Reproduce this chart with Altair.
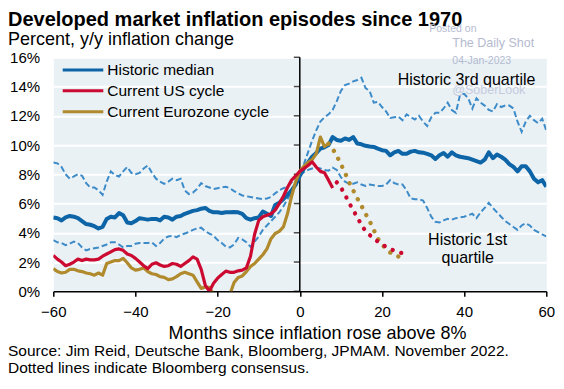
import altair as alt
import pandas as pd

# ---------------- data ----------------
hist_months = list(range(-60, 61))
hist_median = [
    5.05, 5.0, 4.85, 5.05, 5.15, 5.1, 5.0, 4.8, 4.6, 4.55,
    4.45, 4.3, 4.4, 4.95, 5.1, 5.05, 5.35, 5.2, 4.7, 4.65,
    4.8, 5.0, 4.95, 4.9, 4.95, 4.95, 4.85, 5.1, 5.05, 4.9,
    5.1, 5.15, 5.3, 5.4, 5.5, 5.55, 5.65, 5.7, 5.5, 5.4,
    5.4, 5.35, 5.4, 5.4, 5.42, 5.4, 5.3, 5.0, 4.9, 5.0,
    5.05, 5.45, 5.3, 5.15, 5.9, 6.05, 6.3, 6.6, 6.9, 7.3,
    7.9,
    8.4, 8.8, 9.2, 9.45, 9.75, 9.85, 10.0, 10.55, 10.35, 10.3,
    10.45, 10.35, 10.55, 10.1, 10.05, 9.95, 9.9, 9.87, 9.75, 9.65,
    9.6, 9.3, 9.5, 9.6, 9.4, 9.4, 9.55, 9.6, 9.5, 9.48,
    9.4, 9.3, 9.05, 9.3, 9.45, 9.2, 9.5, 9.3, 9.2, 9.15,
    9.1, 9.0, 8.9, 8.8, 9.0, 9.5, 9.1, 9.35, 9.2, 9.0,
    8.7, 8.5, 8.2, 8.55, 8.55, 8.2, 7.7, 7.45, 7.6, 7.15,
]
hist_q3 = [
    8.8, 8.75, 8.5, 8.0, 7.7, 7.85, 8.0, 7.9, 7.4, 7.1,
    7.1, 6.9, 6.6, 7.5, 8.2, 7.95, 7.85, 8.2, 8.5, 8.1,
    8.0, 8.1, 8.4, 8.6, 8.1, 7.7, 7.5, 7.35, 7.5, 7.7,
    7.6, 7.7, 6.9, 6.65, 6.75, 7.0, 7.4, 7.2, 7.1, 7.0,
    7.05, 7.1, 7.15, 7.05, 6.85, 6.7, 6.55, 6.5, 6.45, 6.4,
    6.35, 6.3, 6.35, 6.45, 6.7, 6.9, 7.05, 7.15, 7.45, 7.7,
    8.0,
    8.7, 9.5, 10.3, 11.0, 11.6, 11.9, 12.1, 12.4, 13.0, 13.7,
    14.1, 14.2, 14.35, 14.45, 14.6, 13.9, 13.7, 12.9, 12.95, 12.6,
    12.3, 11.85, 11.9, 11.95, 11.7, 12.1, 11.9, 11.75, 12.0, 11.6,
    11.3, 11.9, 12.2, 12.2, 12.5, 12.9, 12.4, 12.2, 13.45, 13.5,
    13.2, 12.5, 13.2, 12.9, 12.7, 12.4, 12.3, 12.8, 12.6, 12.7,
    12.7, 12.5, 11.6, 10.9, 11.6, 12.0, 11.7, 11.5, 11.8, 11.0,
]
hist_q1 = [
    3.5, 3.35, 3.3, 3.15, 3.25, 3.4, 3.3, 3.0, 2.8, 2.9,
    2.95, 3.0, 3.1, 3.2, 3.35, 3.35, 3.2, 3.0, 3.1, 3.1,
    3.25, 3.3, 3.3, 3.3, 3.35, 3.1, 3.3, 3.6, 3.75, 3.8,
    3.7, 3.85, 3.95, 4.05, 4.2, 4.3, 4.35, 4.1, 3.95, 3.8,
    3.5, 3.3, 3.05, 3.0, 3.2, 3.65, 3.55, 3.35, 3.05, 3.4,
    3.75, 4.2, 4.5, 4.8, 5.1, 5.4, 5.8, 6.3, 6.8, 7.3,
    7.95,
    8.15, 8.3, 8.4, 8.45, 8.4, 8.3, 8.25, 8.45, 8.3, 7.8,
    7.5, 7.35, 7.35, 7.45, 7.3, 7.2, 7.3, 7.25, 7.2, 7.2,
    7.3, 7.6, 7.4, 7.3, 7.3, 6.9, 6.35, 6.3, 6.3, 6.2,
    5.7, 5.1, 4.75, 4.7, 4.85, 4.95, 4.9, 5.0, 5.05, 5.1,
    5.2, 5.3, 5.0, 5.4, 5.7, 6.05, 5.7, 5.4, 5.1, 4.8,
    4.6, 4.4, 4.2, 4.5, 4.65, 4.5, 4.2, 4.05, 3.9, 3.75,
]
us_months = list(range(-60, 9))
us_cycle = [
    2.45, 2.2, 2.0, 1.75, 1.85, 2.0, 2.2, 2.1, 2.2, 2.15,
    2.15, 2.2, 2.4, 2.55, 2.7, 2.85, 2.9, 2.8, 2.55, 2.45,
    2.25, 2.0, 1.75, 1.55, 1.85, 1.95, 1.8, 1.7, 1.75, 1.9,
    1.85, 1.7, 1.9, 2.1, 2.35, 2.2, 1.5, 0.4, 0.0, 0.55,
    0.9, 1.15, 1.38, 1.3, 1.3, 1.4, 1.45, 1.6, 2.4, 3.9,
    4.85, 5.1, 5.2, 5.3, 5.55, 6.0, 6.5, 7.1, 7.6, 7.9,
    8.2, 8.4, 8.6, 8.85, 8.5, 8.2, 8.1, 7.6, 7.06,
]
ez_months = list(range(-60, 8))
ez_cycle = [
    1.55, 1.35, 1.25, 1.3, 1.5, 1.5, 1.4, 1.35, 1.25, 1.2,
    1.1, 1.25, 1.1, 1.9, 2.0, 2.1, 2.1, 2.25, 1.95, 1.6,
    1.45, 1.5, 1.6, 1.35, 1.2, 1.15, 1.0, 0.95, 0.8, 0.85,
    1.0, 1.2, 1.3, 1.2, 1.1, 0.65, 0.2, 0.3, 0.25, -0.2,
    -0.3, -0.3, -0.3, -0.2, 0.6, 0.95, 1.05, 1.35, 1.7, 1.9,
    2.2, 2.5, 2.9, 3.6, 3.95, 4.1, 4.4, 5.3, 6.5, 7.5,
    8.2, 8.55, 8.8, 9.0, 9.4, 10.55, 9.9, 10.1,
]
us_fc_months = list(range(9, 26))
us_consensus = [7.45, 7.1, 6.6, 6.05, 5.55, 5.05, 4.55, 4.1, 3.85, 3.6,
                3.4, 3.2, 3.05, 2.9, 2.78, 2.68, 2.6]
ez_fc_months = list(range(7, 25))
ez_consensus = [10.1, 9.75, 9.25, 8.7, 8.1, 7.45, 6.9, 6.35, 5.85, 5.3,
                4.8, 4.2, 3.6, 3.2, 2.9, 2.65, 2.5, 2.38]

x_ticks = [-60, -40, -20, 0, 20, 40, 60]
y_ticks = [0, 2, 4, 6, 8, 10, 12, 14, 16]

series_names = ["Historic median", "Historic 3rd quartile", "Historic 1st quartile",
                "Current US cycle", "Current Eurozone cycle",
                "US consensus", "Eurozone consensus"]
series_colors = ["#0d65a8", "#3d8bc8", "#3d8bc8", "#cc0a31", "#b08a2c",
                 "#cc0a31", "#b08a2c"]
legend_names = ["Historic median", "Current US cycle", "Current Eurozone cycle"]

annot_text = ["Historic 3rd quartile", "Historic 1st", "quartile"]
annot_month = [40.6, 40.85, 40.85]
annot_value = [14.44, 3.5, 2.26]

title_text = "Developed market inflation episodes since 1970"
subtitle_text = "Percent, y/y inflation change"
source_lines = ["Source: Jim Reid, Deutsche Bank, Bloomberg, JPMAM. November 2022.",
                "Dotted lines indicate Bloomberg consensus."]
watermark = ["Posted on", "The Daily Shot", "04-Jan-2023", "@SoberLook"]

# ---------------- layout / styles ----------------
FONT = "Liberation Sans"
W, H = 493, 234
PAD = {"left": 45.3, "top": 49.3, "right": 9, "bottom": 85}


def frame(months, values, name):
    return pd.DataFrame({"month": months, "value": values, "series": name})


x_scale = alt.Scale(domain=[-60, 60], nice=False, zero=False)
y_scale = alt.Scale(domain=[0, 16], nice=False)
color_scale = alt.Scale(domain=series_names, range=series_colors)

x_axis = alt.Axis(
    values=x_ticks, title="Months since inflation rose above 8%", grid=False,
    domainColor="black", domainWidth=1.5, tickColor="black", tickWidth=1.5,
    tickSize=5, labelFontSize=15, labelColor="black", labelFont=FONT,
    labelBaseline="alphabetic", labelPadding=20, labelFlush=False,
    titleFontSize=18, titleFontWeight="normal", titleColor="black", titleFont=FONT,
    titleX=263.7, titleY=46.8, titleBaseline="alphabetic", titleAlign="center",
)
y_axis = alt.Axis(
    values=y_ticks, title=None, grid=True, gridColor="white", gridWidth=2,
    domain=False, ticks=False, tickSize=0, labelPadding=13.7, labelFontSize=15,
    labelColor="black", labelFont=FONT, labelExpr="datum.value + '%'",
)

X = alt.X("month:Q", scale=x_scale, axis=x_axis)
Y = alt.Y("value:Q", scale=y_scale, axis=y_axis)
C = alt.Color("series:N", scale=color_scale, legend=None)

# vertical axis at month 0 with left-pointing ticks
zero_rule = alt.Chart(pd.DataFrame({"value": [0]})).mark_rule(
    color="black", strokeWidth=1.5
).encode(x=alt.XDatum(datum=0, type="quantitative", scale=x_scale, axis=x_axis))
zero_ticks = alt.Chart(pd.DataFrame({"value": y_ticks})).mark_tick(
    orient="horizontal", color="black", size=6, thickness=1.5, xOffset=-3
).encode(x=alt.XDatum(datum=0, type="quantitative", scale=x_scale, axis=x_axis), y=Y)

quart_df = pd.concat([frame(hist_months, hist_q3, "Historic 3rd quartile"),
                      frame(hist_months, hist_q1, "Historic 1st quartile")])
quartiles = alt.Chart(quart_df).mark_line(
    strokeDash=[6, 3], strokeWidth=2, clip=True
).encode(x=X, y=Y, color=C, detail="series:N")

median = alt.Chart(frame(hist_months, hist_median, "Historic median")).mark_line(
    strokeWidth=4, strokeJoin="round", clip=True
).encode(x=X, y=Y, color=C)

ez_line = alt.Chart(frame(ez_months, ez_cycle, "Current Eurozone cycle")).mark_line(
    strokeWidth=3.2, strokeJoin="round", clip=True
).encode(x=X, y=Y, color=C)

us_line = alt.Chart(frame(us_months, us_cycle, "Current US cycle")).mark_line(
    strokeWidth=3.2, strokeJoin="round", clip=True
).encode(x=X, y=Y, color=C)

ez_dots = alt.Chart(frame(ez_fc_months, ez_consensus, "Eurozone consensus")).mark_line(
    strokeWidth=4.3, strokeDash=[0.1, 8.9], strokeCap="round", clip=True
).encode(x=X, y=Y, color=C)

us_dots = alt.Chart(frame(us_fc_months, us_consensus, "US consensus")).mark_line(
    strokeWidth=4.3, strokeDash=[0.1, 8.9], strokeCap="round", clip=True
).encode(x=X, y=Y, color=C)

annot = alt.Chart(pd.DataFrame({"text": annot_text, "month": annot_month,
                                "value": annot_value})).mark_text(
    fontSize=16, color="black", align="center", baseline="middle", font=FONT
).encode(x=X, y=Y, text="text:N")

# legend (drawn by hand inside the plot area)
legend_layers = []
legend_y = [12.7, 33.5, 54.4]
for name, ly in zip(legend_names, legend_y):
    d = pd.DataFrame({"series": [name]})
    legend_layers.append(alt.Chart(d).mark_rule(strokeWidth=3).encode(
        x=alt.value(9.4), x2=alt.value(50), y=alt.value(ly), color=C))
    legend_layers.append(alt.Chart(d).mark_text(
        align="left", baseline="middle", fontSize=15.5, color="black", font=FONT
    ).encode(x=alt.value(54), y=alt.value(ly), text="series:N"))


def label(text, x, y, size, weight="normal", color="black"):
    return alt.Chart(pd.DataFrame({"t": [text]})).mark_text(
        align="left", baseline="alphabetic", fontSize=size, fontWeight=weight,
        color=color, font=FONT
    ).encode(x=alt.value(x), y=alt.value(y), text="t:N")


texts = [
    label(title_text, -45.3, -31.3, 20, "bold"),
    label(subtitle_text, -45.3, -11.8, 18),
    label(source_lines[0], -45.3, 298.5, 15.5),
    label(source_lines[1], -45.3, 316, 15.5),
    label(watermark[0], 376, -25.5, 10.5, color="#b5bad0"),
    label(watermark[1], 399, -10.1, 12.5, color="#b5bad0"),
    label(watermark[2], 399, 7.1, 10.5, color="#b5bad0"),
    label(watermark[3], 399, 37.1, 12.5, color="#c6cbdd"),
]

chart = alt.layer(
    zero_rule, zero_ticks, quartiles, median, ez_line, us_line, ez_dots, us_dots,
    annot, *legend_layers, *texts
).properties(
    width=W, height=H, padding=PAD, autosize=alt.AutoSizeParams(type="none")
).configure(font=FONT).configure_view(fill="#e9f1f5", stroke="transparent")

chart.save("out.html", embed_options={"renderer": "svg", "actions": False})
